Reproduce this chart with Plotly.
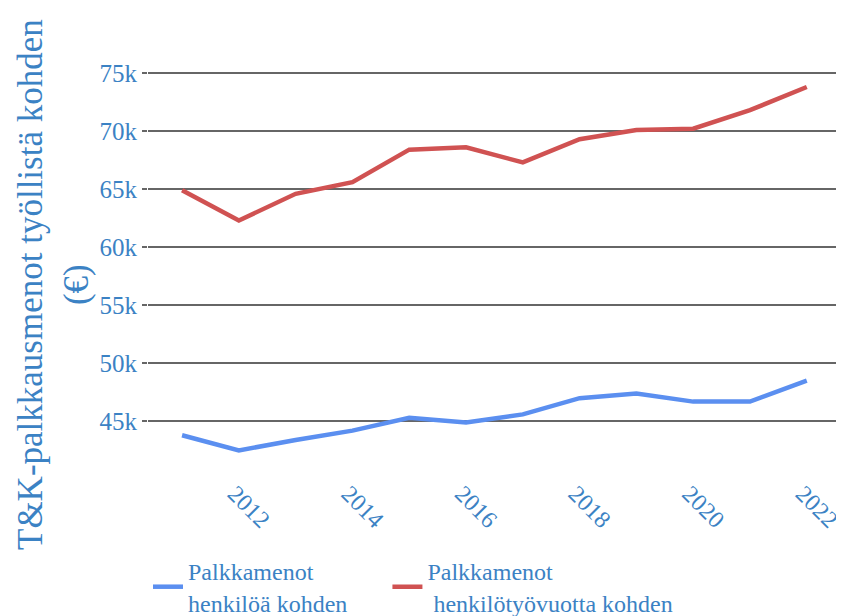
import plotly.graph_objects as go

years = list(range(2011, 2023))
per_person = [43800, 42500, 43400, 44200, 45300, 44900, 45600, 47000, 47400, 46700, 46700, 48500]
per_person_year = [64900, 62300, 64600, 65600, 68400, 68600, 67300, 69300, 70100, 70200, 71800, 73800]
names = ["Palkkamenot<br>henkilöä kohden", "Palkkamenot<br> henkilötyövuotta kohden"]
y_ticks = [45000, 50000, 55000, 60000, 65000, 70000, 75000]
y_labels = ["45k", "50k", "55k", "60k", "65k", "70k", "75k"]
x_ticks = [2012, 2014, 2016, 2018, 2020, 2022]
y_title = "T&K-palkkausmenot työllistä kohden<br>(€)"

text_color = "#3b82c4"
font_family = "Liberation Serif"

# the page body keeps its default 8px margin, so the figure is 8px smaller than the window
W, H = 836, 608
L, R, T, B = 140, 6, 36, 154
plot_w, plot_h = W - L - R, H - T - B

fig = go.Figure(
    data=[
        go.Scatter(x=years, y=per_person, mode="lines", name=names[0], legend="legend",
                   showlegend=True, line=dict(color="#5b8ff0", width=4.5)),
        go.Scatter(x=years, y=per_person_year, mode="lines", name=names[1], legend="legend2",
                   showlegend=True, line=dict(color="#d05252", width=4.5)),
    ],
    layout=go.Layout(
        width=W,
        height=H,
        showlegend=True,
        margin=dict(l=L, r=R, t=T, b=B, autoexpand=False),
        plot_bgcolor="white",
        paper_bgcolor="white",
        font=dict(family=font_family, size=24, color=text_color),
        xaxis=dict(
            range=[2010.40, 2022.55],
            tickvals=x_ticks,
            tickangle=45,
            showgrid=False,
            zeroline=False,
            showline=False,
            automargin=False,
            ticklabelstandoff=12,
            ticklabelshift=-4,
            ticklabeloverflow="allow",
            tickfont=dict(size=24, color=text_color),
        ),
        yaxis=dict(
            range=[41500, 77500],
            tickvals=y_ticks,
            ticktext=y_labels,
            showgrid=True,
            gridcolor="#666666",
            gridwidth=2,
            zeroline=False,
            showline=False,
            automargin=False,
            ticks="outside",
            ticklen=5,
            tickwidth=2,
            tickcolor="#666666",
            ticklabelstandoff=0,
            tickfont=dict(size=25, color=text_color),
        ),
        legend=dict(
            orientation="h",
            x=0.0, xanchor="left",
            y=(H - 541) / H, yref="container", yanchor="top",
            font=dict(size=24, color=text_color),
            itemwidth=30,
        ),
        legend2=dict(
            orientation="h",
            x=0.347, xanchor="left",
            y=(H - 541) / H, yref="container", yanchor="top",
            font=dict(size=24, color=text_color),
            itemwidth=30,
        ),
    ),
)

fig.add_annotation(
    text=y_title,
    xref="paper", yref="paper",
    x=(45 - L) / plot_w, y=(H - B - 277) / plot_h,
    xanchor="center", yanchor="middle",
    textangle=-90,
    showarrow=False,
    font=dict(size=35, color=text_color, family=font_family),
)

fig.write_html("out.html")
